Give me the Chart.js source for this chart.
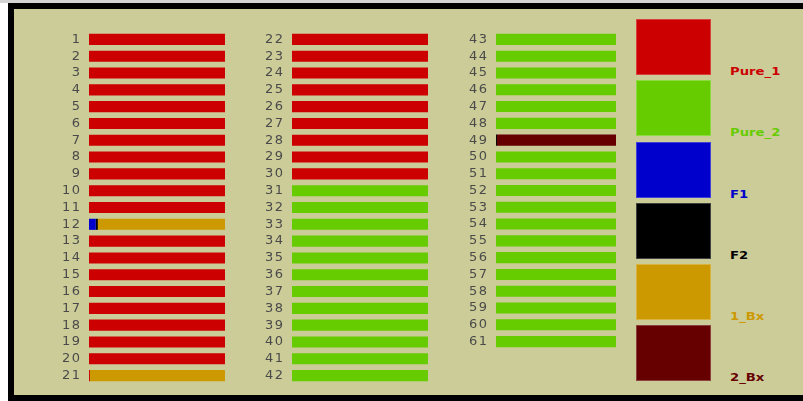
<!DOCTYPE html>
<html><head><meta charset="utf-8">
<script src="https://cdn.jsdelivr.net/npm/chart.js@4"></script>
<style>
html,body{margin:0;padding:0;background:#fff;width:803px;height:401px;overflow:hidden;position:relative}
#topline{position:absolute;left:0;top:0;width:803px;height:3px;background:#d4d4d4}
#frame{position:absolute;left:8px;top:3px;width:800px;height:386px;border:6px solid #000;border-right:none;background:#cccc99}
.pc{position:absolute}
.sw{position:absolute;left:636px;width:75px;height:56px;box-sizing:border-box}
.lb{position:absolute;left:730px;font-family:"DejaVu Sans",Verdana,sans-serif;font-weight:bold;font-size:11px;line-height:11px;transform:scaleX(1.2);transform-origin:0 0;white-space:nowrap}
</style></head>
<body>
<div id="topline"></div>
<div id="frame"></div>
<div class="pc" style="left:30px;top:31px;width:195px;height:353px"><canvas id="c1"></canvas></div>
<div class="pc" style="left:233px;top:31px;width:195px;height:353px"><canvas id="c2"></canvas></div>
<div class="pc" style="left:437px;top:31px;width:179px;height:319px"><canvas id="c3"></canvas></div>
<div id="legend"></div>
<script>
// Categories (individual IDs 1..61)
const categories = Array.from({length: 61}, (_, i) => String(i + 1));
// Rows per panel
const panelSizes = [21, 21, 19];
// Series names and colours
const seriesNames = ["Pure_1", "Pure_2", "F1", "F2", "1_Bx", "2_Bx"];
const seriesColors = ["#cc0000", "#66cc00", "#0000cc", "#000000", "#cc9900", "#660000"];
// Series values (proportion of each class per individual)
const pure1 = [1,1,1,1,1,1,1,1,1,1,1,0,1,1,1,1,1,1,1,1,0.007,
               1,1,1,1,1,1,1,1,1,0,0,0,0,0,0,0,0,0,0,0,0,
               0,0,0,0,0,0,0,0,0,0,0,0,0,0,0,0,0,0,0];
const pure2 = [0,0,0,0,0,0,0,0,0,0,0,0,0,0,0,0,0,0,0,0,0,
               0,0,0,0,0,0,0,0,0,1,1,1,1,1,1,1,1,1,1,1,1,
               1,1,1,1,1,1,0,1,1,1,1,1,1,1,1,1,1,1,1];
const f1 =    [0,0,0,0,0,0,0,0,0,0,0,0.05,0,0,0,0,0,0,0,0,0,
               0,0,0,0,0,0,0,0,0,0,0,0,0,0,0,0,0,0,0,0,0,
               0,0,0,0,0,0,0,0,0,0,0,0,0,0,0,0,0,0,0];
const f2 =    [0,0,0,0,0,0,0,0,0,0,0,0.015,0,0,0,0,0,0,0,0,0,
               0,0,0,0,0,0,0,0,0,0,0,0,0,0,0,0,0,0,0,0,0,
               0,0,0,0,0,0,0.008,0,0,0,0,0,0,0,0,0,0,0,0];
const bx1 =   [0,0,0,0,0,0,0,0,0,0,0,0.935,0,0,0,0,0,0,0,0,0.993,
               0,0,0,0,0,0,0,0,0,0,0,0,0,0,0,0,0,0,0,0,0,
               0,0,0,0,0,0,0,0,0,0,0,0,0,0,0,0,0,0,0];
const bx2 =   [0,0,0,0,0,0,0,0,0,0,0,0,0,0,0,0,0,0,0,0,0,
               0,0,0,0,0,0,0,0,0,0,0,0,0,0,0,0,0,0,0,0,0,
               0,0,0,0,0,0,0.992,0,0,0,0,0,0,0,0,0,0,0,0];
const seriesValues = [pure1, pure2, f1, f2, bx1, bx2];

const spacingPlugin = {
  id: 'spacing',
  beforeDraw(chart) { chart.ctx.letterSpacing = '1.5px'; },
  afterDraw(chart) { chart.ctx.letterSpacing = '0px'; }
};

function makePanel(id, start, count) {
  const labels = categories.slice(start, start + count);
  const datasets = seriesNames.map((n, k) => ({
    label: n,
    data: seriesValues[k].slice(start, start + count),
    backgroundColor: seriesColors[k],
    borderWidth: 0,
    categoryPercentage: 1,
    barPercentage: 0.66
  }));
  new Chart(document.getElementById(id), {
    type: 'bar',
    data: { labels, datasets },
    plugins: [spacingPlugin],
    options: {
      indexAxis: 'y',
      responsive: true,
      maintainAspectRatio: false,
      animation: false,
      layout: { padding: 0 },
      plugins: { legend: { display: false }, tooltip: { enabled: false } },
      scales: {
        x: { display: false, stacked: true, min: 0, max: 1 },
        y: {
          stacked: true,
          grid: { display: false, drawTicks: false },
          border: { display: false },
          ticks: { autoSkip: false, color: '#4a4a4a', padding: 7.5, font: { family: '"DejaVu Sans", sans-serif', size: 13 } },
          afterFit(s) { s.width = 59; s.paddingTop = 0; s.paddingBottom = 0; }
        }
      }
    }
  });
}
let st = 0;
['c1', 'c2', 'c3'].forEach((id, i) => { makePanel(id, st, panelSizes[i]); st += panelSizes[i]; });

// Legend
const lg = document.getElementById('legend');
const swTops = [19, 80, 141.5, 202.5, 264, 325];
seriesNames.forEach((n, k) => {
  const s = document.createElement('div');
  s.className = 'sw';
  s.style.top = swTops[k] + 'px';
  s.style.background = seriesColors[k];
  s.style.border = '1px solid rgba(255,255,255,0.25)';
  lg.appendChild(s);
  const t = document.createElement('div');
  t.className = 'lb';
  t.style.top = (swTops[k] + 47) + 'px';
  t.style.color = seriesColors[k];
  t.textContent = n;
  lg.appendChild(t);
});
</script>
</body></html>
